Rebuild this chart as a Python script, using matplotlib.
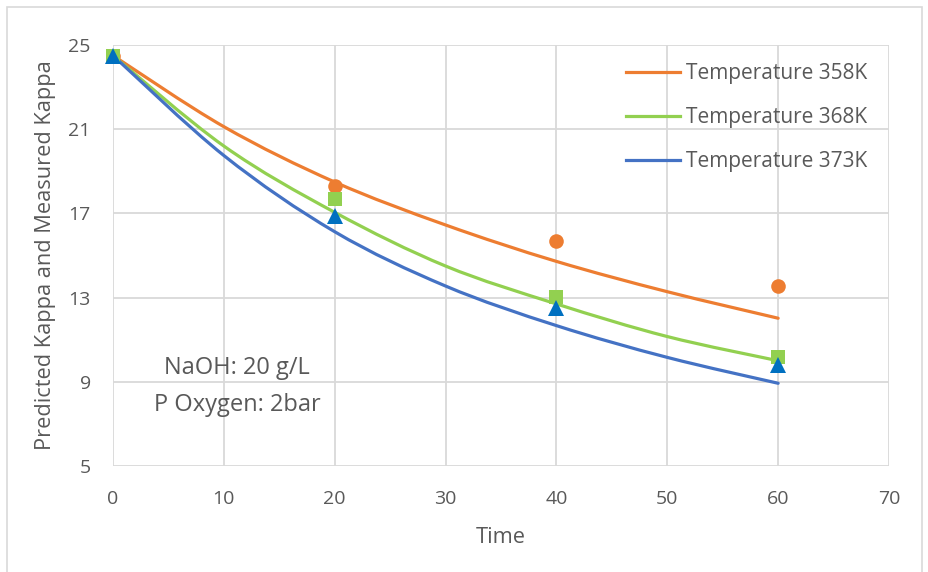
import matplotlib
matplotlib.use("Agg")
import matplotlib.pyplot as plt
from matplotlib.path import Path
from matplotlib.patches import PathPatch, Rectangle
from matplotlib.lines import Line2D

plt.rcParams['font.family'] = ['Open Sans', 'DejaVu Sans']

# Predicted kappa (model curves)
model_time = [0, 10, 20, 30, 40, 50, 60]
pred_358 = [24.5, 21.12, 18.49, 16.45, 14.72, 13.28, 12.02]
pred_368 = [24.5, 20.2, 17.05, 14.5, 12.7, 11.15, 10.0]
pred_373 = [24.5, 19.75, 16.13, 13.55, 11.67, 10.16, 8.93]

# Measured kappa
meas_time = [0, 20, 40, 60]
meas_358 = [24.5, 18.3, 15.7, 13.55]
meas_368 = [24.5, 17.7, 13.05, 10.2]
meas_373 = [24.5, 16.9, 12.5, 9.8]

series_labels = ["Temperature 358K", "Temperature 368K", "Temperature 373K"]
x_ticks = [0, 10, 20, 30, 40, 50, 60, 70]
y_ticks = [5, 9, 13, 17, 21, 25]

ORANGE = "#ED7D31"
GREEN = "#92D050"
BLUE_LINE = "#4472C4"
BLUE_MARK = "#0070C0"
TEXT = "#595959"
GRID = "#D9D9D9"

W, H = 929, 572


def smooth_path(xs, ys):
    """Cubic Bezier through the points (Catmull-Rom style smoothing)."""
    pts = list(zip(xs, ys))
    n = len(pts)
    verts = [pts[0]]
    codes = [Path.MOVETO]
    for i in range(n - 1):
        p0 = pts[i - 1] if i > 0 else pts[i]
        p1 = pts[i]
        p2 = pts[i + 1]
        p3 = pts[i + 2] if i + 2 < n else pts[i + 1]
        c1 = (p1[0] + (p2[0] - p0[0]) / 6, p1[1] + (p2[1] - p0[1]) / 6)
        c2 = (p2[0] - (p3[0] - p1[0]) / 6, p2[1] - (p3[1] - p1[1]) / 6)
        verts += [c1, c2, p2]
        codes += [Path.CURVE4] * 3
    return Path(verts, codes)


fig = plt.figure(figsize=(W / 100, H / 100), dpi=100)
fig.patch.set_facecolor("white")
fig.patches.append(Rectangle((7 / W, -0.05), 915 / W, 1.05 - 7 / H,
                             transform=fig.transFigure, fill=False,
                             edgecolor=GRID, linewidth=1.2))

ax = fig.add_axes([113 / W, 1 - 466 / H, (889 - 113) / W, (466 - 45) / H])
ax.set_xlim(0, 70)
ax.set_ylim(5, 25)
ax.set_xticks(x_ticks)
ax.set_yticks(y_ticks)
ax.grid(True, color=GRID, linewidth=1.3)
ax.set_axisbelow(True)
for s in ax.spines.values():
    s.set_visible(False)
ax.tick_params(length=0, labelsize=14, colors=TEXT)
ax.tick_params(axis='x', pad=17)
ax.tick_params(axis='y', pad=16)

curves = [(pred_358, ORANGE), (pred_368, GREEN), (pred_373, BLUE_LINE)]
for ys, c in curves:
    ax.add_patch(PathPatch(smooth_path(model_time, ys), fill=False,
                           edgecolor=c, linewidth=2.3, capstyle='round',
                           zorder=3))

ax.plot(meas_time, meas_358, 'o', color=ORANGE, ms=10.5, mew=0, zorder=4,
        clip_on=False)
ax.plot(meas_time, meas_368, 's', color=GREEN, ms=10.5, mew=0, zorder=5,
        clip_on=False)
ax.plot(meas_time, meas_373, '^', color=BLUE_MARK, ms=11, mew=0, zorder=6,
        clip_on=False)

handles = [Line2D([], [], color=c, lw=2.3) for _, c in curves]
leg = fig.legend(handles, series_labels, loc='upper left',
                 bbox_to_anchor=(626 / W, 1 - 63 / H), frameon=False,
                 fontsize=15, handlelength=2.6, handletextpad=0.3,
                 labelspacing=1.1, borderpad=0, borderaxespad=0,
                 labelcolor=TEXT)

ax.set_xlabel("Time", fontsize=15.7, color=TEXT, labelpad=14)
ax.set_ylabel("Predicted Kappa and Measured Kappa", fontsize=15.7,
              color=TEXT, labelpad=9)

ax.text(11.18, 9.66, "NaOH: 20 g/L", fontsize=17, color=TEXT,
        ha='center', va='center')
ax.text(11.18, 7.9, "P Oxygen: 2bar", fontsize=17, color=TEXT,
        ha='center', va='center')

fig.savefig("out.png", dpi=100)
